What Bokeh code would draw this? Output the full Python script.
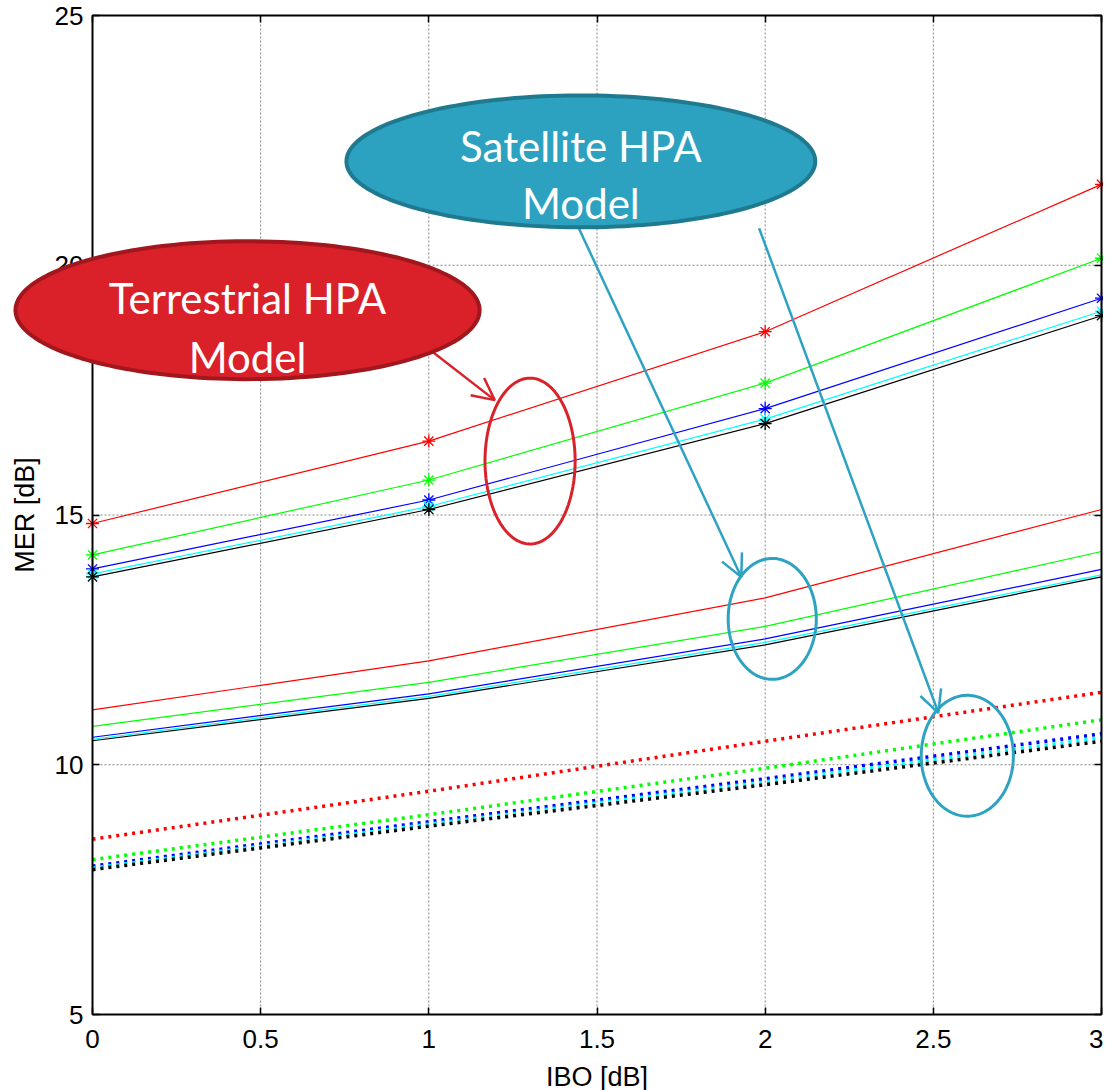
import numpy as np
from bokeh.plotting import figure
from bokeh.models import (Range1d, FixedTicker, PolyAnnotation, BoxAnnotation,
                          Arrow, OpenHead, Label, LinearAxis)
from bokeh.embed import file_html
from bokeh.resources import INLINE

# ---------------- data ----------------
ibo = [0, 1, 2, 3]

# Terrestrial HPA model (solid with * markers)
terr_red = [14.83, 16.48, 18.67, 21.62]
terr_green = [14.20, 15.70, 17.64, 20.14]
terr_blue = [13.92, 15.30, 17.13, 19.34]
terr_cyan = [13.82, 15.17, 16.92, 19.08]
terr_black = [13.76, 15.11, 16.83, 18.99]

# Satellite HPA model (solid, no markers)
sat_red = [11.10, 12.08, 13.34, 15.11]
sat_green = [10.77, 11.65, 12.77, 14.27]
sat_blue = [10.55, 11.42, 12.52, 13.91]
sat_cyan = [10.51, 11.37, 12.45, 13.80]
sat_black = [10.48, 11.33, 12.40, 13.76]

# Satellite HPA model (dotted)
dot_red = [8.51, 9.47, 10.47, 11.45]
dot_green = [8.10, 9.00, 9.93, 10.90]
dot_blue = [7.97, 8.86, 9.72, 10.62]
dot_cyan = [7.93, 8.81, 9.66, 10.54]
dot_black = [7.90, 8.77, 9.60, 10.47]

colors = ["#FF0000", "#00FF00", "#0000FF", "#00FFFF", "#000000"]

x_ticks = [0, 0.5, 1, 1.5, 2, 2.5, 3]
x_tick_labels = ["0", "0.5", "1", "1.5", "2", "2.5", "3"]
y_ticks = [5, 10, 15, 20, 25]
y_tick_labels = ["5", "10", "15", "20", "25"]

X_MIN, X_MAX = 0, 3
Y_MIN, Y_MAX = 5, 25

FONT = "Liberation Sans"

# The frame covers the whole canvas so that callouts and labels can reach past
# the axes box; the axes are pinned to the box edges with fixed_location.
W, H = 1103, 1090
PX_X, PX_Y = 336.33, 49.95
BOX_L, BOX_T, BOX_B = 92, 15, 1014

p = figure(width=W, height=H, output_backend="svg", toolbar_location=None,
           x_range=Range1d(X_MIN - BOX_L / PX_X, X_MAX + 2 / PX_X),
           y_range=Range1d(Y_MIN - (H - BOX_B) / PX_Y, Y_MAX + BOX_T / PX_Y),
           min_border=0, background_fill_color="white",
           border_fill_color="white")
p.outline_line_color = None
p.grid.visible = False


def style_axis(ax, ticks, labels):
    ax.ticker = FixedTicker(ticks=ticks)
    ax.major_label_overrides = dict(zip(ticks, labels))
    ax.axis_line_color = None
    ax.major_tick_in = 7
    ax.major_tick_out = 0
    ax.minor_tick_line_color = None
    ax.major_tick_line_color = "black"
    ax.major_tick_line_width = 1.5
    ax.major_label_text_font = FONT
    ax.major_label_text_font_size = "26px"
    ax.major_label_text_color = "black"


xa, ya = p.xaxis[0], p.yaxis[0]
style_axis(xa, x_ticks, x_tick_labels)
style_axis(ya, y_ticks, y_tick_labels)
xa.fixed_location = Y_MIN
ya.fixed_location = X_MIN
xa.major_label_standoff = 15
ya.major_label_standoff = 9

# mirrored inward ticks on the top and right of the box
ra = LinearAxis(fixed_location=X_MAX)
style_axis(ra, y_ticks, y_tick_labels)
ra.major_label_text_color = None
p.add_layout(ra, "right")
ta = LinearAxis(fixed_location=Y_MAX)
style_axis(ta, x_ticks, x_tick_labels)
ta.major_label_text_color = None
p.add_layout(ta, "above")

# grid (inside the box only)
inner_x = [t for t in x_ticks if X_MIN < t < X_MAX]
inner_y = [t for t in y_ticks if Y_MIN < t < Y_MAX]
p.segment(x0=inner_x, x1=inner_x, y0=[Y_MIN] * len(inner_x),
          y1=[Y_MAX] * len(inner_x), line_color="#666666", line_dash="2 2",
          line_alpha=0.8)
p.segment(x0=[X_MIN] * len(inner_y), x1=[X_MAX] * len(inner_y), y0=inner_y,
          y1=inner_y, line_color="#666666", line_dash="2 2", line_alpha=0.8)

# ---------------- series ----------------
for ys, c in zip([dot_red, dot_green, dot_blue, dot_cyan, dot_black], colors):
    p.line(ibo, ys, line_color=c, line_width=3.5, line_dash="3 5")

for ys, c in zip([sat_red, sat_green, sat_blue, sat_cyan, sat_black], colors):
    p.line(ibo, ys, line_color=c, line_width=1.2)

for ys, c in zip([terr_red, terr_green, terr_blue, terr_cyan, terr_black], colors):
    p.line(ibo, ys, line_color=c, line_width=1.2)
    p.scatter(ibo, ys, marker="asterisk", size=13, line_color=c, line_width=1.3)

# axes box
p.add_layout(BoxAnnotation(left=X_MIN, right=X_MAX, bottom=Y_MIN, top=Y_MAX,
                           fill_color=None, fill_alpha=0, line_color="black",
                           line_alpha=1, line_width=2))

# axis titles centred on the data span
p.add_layout(Label(x=(X_MIN + X_MAX) / 2, y=Y_MIN - 62 / PX_Y, text="IBO [dB]",
                   text_align="center", text_baseline="middle",
                   text_font=FONT, text_font_size="27px", text_color="black"))
p.add_layout(Label(x=X_MIN - 68 / PX_X, y=(Y_MIN + Y_MAX) / 2, text="MER [dB]",
                   angle=np.pi / 2, text_align="center", text_baseline="middle",
                   text_font=FONT, text_font_size="27px", text_color="black"))


# ---------------- annotations ----------------
def ellipse(cx, cy, rx, ry, n=160):
    t = np.linspace(0, 2 * np.pi, n)
    return list(cx + rx * np.cos(t)), list(cy + ry * np.sin(t))


RED_FILL, RED_EDGE, RED_LINE = "#DA2029", "#A1171D", "#D8232B"
TEAL_FILL, TEAL_EDGE, TEAL_LINE = "#2CA2C0", "#1F7A90", "#2EA3C1"

for (cx, cy, rx, ry, c) in [(1.301, 16.08, 0.134, 1.66, RED_LINE),
                            (2.021, 12.92, 0.131, 1.21, TEAL_LINE),
                            (2.601, 10.18, 0.137, 1.21, TEAL_LINE)]:
    xs, ys = ellipse(cx, cy, rx, ry)
    p.add_layout(PolyAnnotation(xs=xs, ys=ys, fill_color=None, fill_alpha=0,
                                line_color=c, line_alpha=1, line_width=3))

for (x0, y0, x1, y1, c) in [(0.955, 18.56, 1.196, 17.30, RED_LINE),
                            (1.446, 20.74, 1.929, 13.76, TEAL_LINE),
                            (1.982, 20.74, 2.515, 11.04, TEAL_LINE)]:
    p.add_layout(Arrow(x_start=x0, y_start=y0, x_end=x1, y_end=y1,
                       line_color=c, line_width=2.5,
                       end=OpenHead(size=22, line_color=c, line_width=2.5)))

xs, ys = ellipse(0.461, 19.10, 0.690, 1.38)
p.add_layout(PolyAnnotation(xs=xs, ys=ys, fill_color=RED_FILL, fill_alpha=1,
                            line_color=RED_EDGE, line_alpha=1, line_width=4))
xs, ys = ellipse(1.452, 22.08, 0.697, 1.32)
p.add_layout(PolyAnnotation(xs=xs, ys=ys, fill_color=TEAL_FILL, fill_alpha=1,
                            line_color=TEAL_EDGE, line_alpha=1, line_width=4))

for txt, x, y in [("Terrestrial HPA", 0.461, 19.34), ("Model", 0.461, 18.16),
                  ("Satellite HPA", 1.452, 22.38), ("Model", 1.452, 21.24)]:
    p.add_layout(Label(x=x, y=y, text=txt, text_align="center",
                       text_baseline="alphabetic", text_color="white",
                       text_font="Lato", text_font_size="42px"))

open("out.html", "w").write(file_html(p, INLINE))
